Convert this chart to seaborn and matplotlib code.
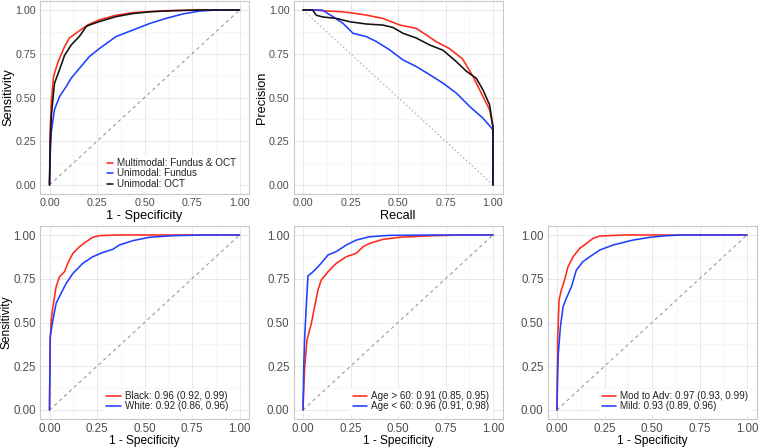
import seaborn as sns
import matplotlib.pyplot as plt
import pandas as pd

# ---- data ----
# top left ROC: multimodal vs unimodal
mm_fpr = [0, 0.003, 0.01, 0.021, 0.044, 0.079, 0.105, 0.149, 0.20, 0.26, 0.35, 0.44, 0.61, 0.79, 1.0]
mm_tpr = [0, 0.30, 0.48, 0.62, 0.70, 0.79, 0.84, 0.875, 0.914, 0.943, 0.97, 0.985, 0.996, 1.0, 1.0]
fu_fpr = [0, 0.004, 0.009, 0.026, 0.053, 0.088, 0.114, 0.158, 0.21, 0.263, 0.35, 0.44, 0.53, 0.61, 0.70, 0.79, 0.877, 1.0]
fu_tpr = [0, 0.18, 0.30, 0.43, 0.506, 0.563, 0.61, 0.667, 0.734, 0.78, 0.848, 0.886, 0.924, 0.951, 0.977, 0.994, 1.0, 1.0]
oc_fpr = [0, 0.004, 0.01, 0.026, 0.053, 0.079, 0.114, 0.158, 0.193, 0.21, 0.26, 0.35, 0.44, 0.53, 0.65, 0.79, 1.0]
oc_tpr = [0, 0.25, 0.40, 0.58, 0.66, 0.74, 0.80, 0.85, 0.905, 0.914, 0.933, 0.962, 0.98, 0.99, 0.996, 1.0, 1.0]

# top middle PR curves
mm_rec = [0, 0.05, 0.10, 0.20, 0.246, 0.333, 0.42, 0.51, 0.596, 0.65, 0.70, 0.77, 0.84, 0.895, 0.947, 0.982, 1.0, 1.0]
mm_pre = [1, 1, 0.996, 0.99, 0.985, 0.971, 0.952, 0.914, 0.895, 0.857, 0.82, 0.78, 0.72, 0.62, 0.506, 0.43, 0.33, 0]
fu_rec = [0, 0.10, 0.158, 0.21, 0.263, 0.333, 0.386, 0.456, 0.526, 0.596, 0.667, 0.737, 0.807, 0.877, 0.947, 1.0, 1.0]
fu_pre = [1, 1, 0.962, 0.924, 0.867, 0.848, 0.82, 0.772, 0.715, 0.677, 0.63, 0.582, 0.525, 0.449, 0.382, 0.316, 0]
oc_rec = [0, 0.05, 0.07, 0.105, 0.175, 0.246, 0.333, 0.42, 0.474, 0.526, 0.596, 0.667, 0.737, 0.807, 0.86, 0.912, 0.947, 0.982, 1.0, 1.0]
oc_pre = [1, 1, 0.97, 0.96, 0.952, 0.933, 0.92, 0.914, 0.90, 0.867, 0.84, 0.80, 0.77, 0.705, 0.65, 0.61, 0.544, 0.458, 0.33, 0]

# bottom left: race
bl_fpr = [0, 0.003, 0.009, 0.018, 0.035, 0.053, 0.079, 0.096, 0.123, 0.158, 0.193, 0.228, 0.263, 0.35, 1.0]
bl_tpr = [0, 0.38, 0.514, 0.59, 0.705, 0.762, 0.79, 0.838, 0.895, 0.933, 0.962, 0.987, 0.996, 1.0, 1.0]
wh_fpr = [0, 0.004, 0.018, 0.035, 0.061, 0.088, 0.123, 0.175, 0.228, 0.28, 0.333, 0.368, 0.44, 0.526, 0.65, 0.80, 1.0]
wh_tpr = [0, 0.42, 0.514, 0.61, 0.667, 0.724, 0.78, 0.838, 0.876, 0.90, 0.918, 0.943, 0.968, 0.987, 0.996, 1.0, 1.0]

# bottom middle: age
old_fpr = [0, 0.005, 0.009, 0.021, 0.044, 0.061, 0.079, 0.096, 0.132, 0.175, 0.228, 0.28, 0.316, 0.35, 0.42, 0.509, 0.684, 0.85, 1.0]
old_tpr = [0, 0.15, 0.248, 0.40, 0.495, 0.59, 0.686, 0.743, 0.79, 0.838, 0.876, 0.895, 0.933, 0.952, 0.975, 0.987, 0.996, 1.0, 1.0]
yng_fpr = [0, 0.004, 0.009, 0.018, 0.026, 0.053, 0.088, 0.132, 0.175, 0.228, 0.28, 0.35, 0.456, 0.70, 1.0]
yng_tpr = [0, 0.25, 0.42, 0.61, 0.766, 0.79, 0.829, 0.886, 0.905, 0.943, 0.971, 0.99, 0.998, 1.0, 1.0]

# bottom right: severity
adv_fpr = [0, 0.002, 0.004, 0.011, 0.023, 0.040, 0.058, 0.085, 0.12, 0.155, 0.19, 0.225, 0.35, 1.0]
adv_tpr = [0, 0.25, 0.42, 0.629, 0.686, 0.743, 0.819, 0.876, 0.924, 0.952, 0.981, 0.994, 1.0, 1.0]
mld_fpr = [0, 0.003, 0.007, 0.018, 0.032, 0.049, 0.076, 0.102, 0.137, 0.173, 0.225, 0.296, 0.366, 0.40, 0.49, 0.577, 0.66, 1.0]
mld_tpr = [0, 0.18, 0.324, 0.476, 0.59, 0.638, 0.705, 0.80, 0.848, 0.876, 0.914, 0.943, 0.962, 0.971, 0.987, 0.996, 1.0, 1.0]

ticks = [0, 0.25, 0.5, 0.75, 1.0]
tick_labels = ['0.00', '0.25', '0.50', '0.75', '1.00']

sns.set_theme(style="whitegrid")
plt.rcParams['font.family'] = ['Liberation Sans', 'DejaVu Sans']

W, H = 760, 447
fig = plt.figure(figsize=(7.6, 4.47), dpi=100)


def make_ax(l, t, r, b):
    return fig.add_axes([l / W, (H - b) / H, (r - l) / W, (b - t) / H])


def style_ax(ax, xlabel, ylabel, tick_fs, lab_fs, xpad):
    ax.set_xlim(-0.05, 1.05)
    ax.set_ylim(-0.05, 1.05)
    ax.set_xticks(ticks)
    ax.set_xticklabels(tick_labels)
    ax.set_yticks(ticks)
    ax.set_yticklabels(tick_labels)
    ax.set_xticks([0.125, 0.375, 0.625, 0.875], minor=True)
    ax.set_yticks([0.125, 0.375, 0.625, 0.875], minor=True)
    ax.grid(which='major', color='#e4e4e4', lw=0.6)
    ax.grid(which='minor', color='#f1f1f1', lw=0.4)
    ax.set_facecolor('white')
    for s in ax.spines.values():
        s.set_color('#c8c8c8')
        s.set_linewidth(0.8)
    ax.tick_params(which='major', length=2, width=0.6, color='#b3b3b3',
                   labelcolor='#4d4d4d', labelsize=tick_fs, pad=0.8)
    ax.tick_params(which='minor', length=0)
    ax.set_xlabel(xlabel, fontsize=lab_fs, color='black', labelpad=xpad)
    ax.set_ylabel(ylabel, fontsize=lab_fs, color='black', labelpad=1)


def draw(ax, curves, colors, diag):
    frames = []
    for name, xs, ys in curves:
        frames.append(pd.DataFrame({'x': xs, 'y': ys, 'group': name}))
    df = pd.concat(frames, ignore_index=True)
    names = [c[0] for c in curves]
    pal = dict(zip(names, colors))
    if diag == 'roc':
        ax.plot([0, 1], [0, 1], ls=(0, (3, 3)), color='#9a9a9a', lw=0.8)
    else:
        ax.plot([0, 1], [1, 0], ls=(0, (1.5, 2)), color='#b0b0b0', lw=0.8)
    sns.lineplot(data=df, x='x', y='y', hue='group', hue_order=names, palette=pal,
                 sort=False, estimator=None, lw=1.15, ax=ax, legend=True)


red, blue, black = '#ff2a1a', '#2040ff', '#111111'

# top left
ax1 = make_ax(40, 1.25, 249, 193.75)
draw(ax1, [('Multimodal: Fundus & OCT', mm_fpr, mm_tpr),
           ('Unimodal: Fundus', fu_fpr, fu_tpr),
           ('Unimodal: OCT', oc_fpr, oc_tpr)], [red, blue, black], 'roc')
style_ax(ax1, '1 - Specificity', 'Sensitivity', 7.7, 9.2, 1.5)

# top middle
ax2 = make_ax(293.5, 1.25, 502.5, 193.75)
draw(ax2, [('Multimodal', mm_rec, mm_pre),
           ('Fundus', fu_rec, fu_pre),
           ('OCT', oc_rec, oc_pre)], [red, blue, black], 'pr')
style_ax(ax2, 'Recall', 'Precision', 7.7, 9.2, 1.5)
ax2.get_legend().remove()

# bottom row
ax3 = make_ax(40, 226.25, 249, 418.75)
draw(ax3, [('Black: 0.96 (0.92, 0.99)', bl_fpr, bl_tpr),
           ('White: 0.92 (0.86, 0.96)', wh_fpr, wh_tpr)], [red, blue], 'roc')
style_ax(ax3, '1 - Specificity', 'Sensitivity', 8.3, 8.6, 0)

ax4 = make_ax(293.5, 226.25, 502.5, 418.75)
draw(ax4, [('Age > 60: 0.91 (0.85, 0.95)', old_fpr, old_tpr),
           ('Age < 60: 0.96 (0.91, 0.98)', yng_fpr, yng_tpr)], [red, blue], 'roc')
style_ax(ax4, '1 - Specificity', '', 8.3, 8.6, 0)

ax5 = make_ax(547.5, 226.25, 756.5, 418.75)
draw(ax5, [('Mod to Adv: 0.97 (0.93, 0.99)', adv_fpr, adv_tpr),
           ('Mild: 0.93 (0.89, 0.96)', mld_fpr, mld_tpr)], [red, blue], 'roc')
style_ax(ax5, '1 - Specificity', '', 8.3, 8.6, 0)

# legends inside the panel, centred a bit right of middle
for ax, hl, xc, yb in [(ax1, 0.6, 0.63, 0.012), (ax3, 1.5, 0.61, 0.025),
                       (ax4, 1.5, 0.61, 0.025), (ax5, 1.5, 0.61, 0.025)]:
    h, l = ax.get_legend_handles_labels()
    leg = ax.legend(h, l, loc='lower center', bbox_to_anchor=(xc, yb), fontsize=7.1,
                    frameon=True, framealpha=1, edgecolor='white', facecolor='white',
                    fancybox=False, handlelength=hl, handletextpad=0.4,
                    labelspacing=0.05, borderpad=0.25, borderaxespad=0)
    for t in leg.get_texts():
        t.set_color('#222222')

fig.savefig('out.png', dpi=100, facecolor='white')
